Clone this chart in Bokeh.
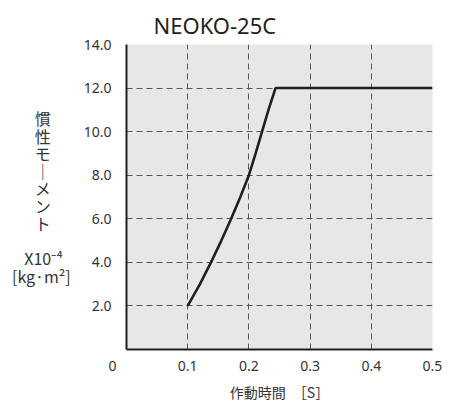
from bokeh.plotting import figure
from bokeh.models import Range1d, FixedTicker, Title
from bokeh.embed import file_html
from bokeh.resources import INLINE

# data
inertia = [2.0, 3.0, 4.0, 5.0, 6.0, 7.0, 8.0, 9.0, 10.0, 11.0, 12.0, 12.0]
time_s = [0.1, 0.12, 0.138, 0.155, 0.171, 0.186, 0.2, 0.211, 0.2215, 0.232, 0.2435, 0.5]
x_ticks = [0, 0.1, 0.2, 0.3, 0.4, 0.5]
x_tick_labels = ["0\u2003\u2003", "0.1", "0.2", "0.3", "0.4", "0.5"]
y_ticks = [2, 4, 6, 8, 10, 12, 14]
y_tick_labels = ["2.0", "4.0", "6.0", "8.0", "10.0", "12.0", "14.0"]
title_text = "NEOKO-25C"
y_label_chars = ["慣", "性", "モ", "｜", "メ", "ン", "ト"]
unit1 = "X10⁻⁴"
unit2 = "[kg·m²]"
x_label = "作動時間　［S］"

p = figure(width=446, height=404, output_backend="svg", toolbar_location=None,
           x_range=Range1d(0, 0.5), y_range=Range1d(0, 14),
           min_border_left=126, min_border_right=14, min_border_top=44, min_border_bottom=46)
p.background_fill_color = "#e6e7e8"
p.border_fill_color = "white"
p.outline_line_color = None

p.xaxis.ticker = FixedTicker(ticks=x_ticks)
p.yaxis.ticker = FixedTicker(ticks=y_ticks)
p.xaxis.major_label_overrides = dict(zip(x_ticks, x_tick_labels))
p.yaxis.major_label_overrides = dict(zip(y_ticks, y_tick_labels))
for ax in (p.xaxis, p.yaxis):
    ax.axis_line_color = "#231f20"
    ax.axis_line_width = 2
    ax.major_tick_line_color = None
    ax.minor_tick_line_color = None
    ax.major_label_text_font = "Noto Sans"
    ax.major_label_text_font_size = "14px"
    ax.major_label_text_color = "#333333"
    ax.axis_label_text_font = "Noto Sans CJK JP"
    ax.axis_label_text_font_style = "normal"
    ax.axis_label_text_color = "#333333"
p.xaxis.major_label_standoff = 0
p.yaxis.major_label_standoff = 9

p.xaxis.axis_label = x_label
p.xaxis.axis_label_text_font_size = "14px"
p.xaxis.axis_label_standoff = 4

pad_char = "\u2003\u2005"
pad_unit1 = "\u2002"
y_lines = [c + pad_char for c in y_label_chars] + ["", unit1 + pad_unit1, unit2]
p.yaxis.axis_label = "\n".join(y_lines)
p.yaxis.axis_label_orientation = "horizontal"
p.yaxis.axis_label_text_font_size = "16px"
p.yaxis.axis_label_text_line_height = 0.73
p.yaxis.axis_label_standoff = 10

for g in (p.xgrid, p.ygrid):
    g.grid_line_color = "#555555"
    g.grid_line_dash = "6 4"
    g.grid_line_width = 1

p.line(time_s, inertia, line_color="#231f20", line_width=2.6)

p.add_layout(Title(text=title_text, align="left", offset=27, text_font="Noto Sans",
                   text_font_size="22px", text_font_style="normal", text_color="#231f20",
                   standoff=9), "above")

open("out.html", "w").write(file_html(p, INLINE))
